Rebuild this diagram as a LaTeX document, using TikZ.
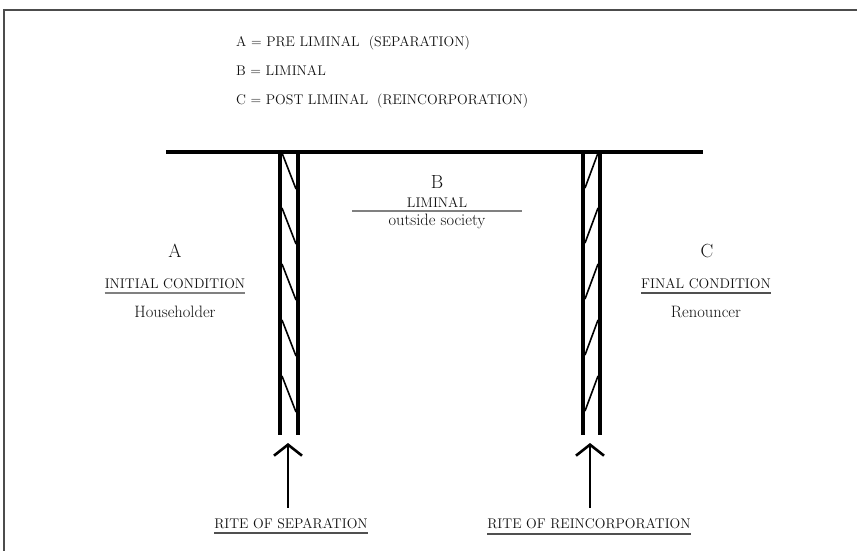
\documentclass[tikz,border=0pt]{standalone}
\usetikzlibrary{arrows.meta,calc}
\definecolor{ink}{HTML}{111111}
\definecolor{rule}{HTML}{808080}
\definecolor{ruledark}{HTML}{505050}
\begin{document}
\begin{tikzpicture}[x=1pt,y=-1pt,
  txt/.style={anchor=base,inner sep=0pt,font=\fontsize{14}{16}\selectfont,text=ink},
  low/.style={anchor=base,inner sep=0pt,font=\fontsize{16.5}{18}\selectfont,text=ink},
  big/.style={anchor=base,inner sep=0pt,font=\fontsize{19}{22}\selectfont,text=ink},
  pillar/.style={line width=4.5pt},
  hatch/.style={line width=1.6pt},
  uline/.style={draw=rule,line width=1.3pt},
  ulinedark/.style={draw=ruledark,line width=1.5pt},
  arr/.style={line width=2.8pt,-{Straight Barb[length=11pt,width=28pt,line width=2.6pt]}}]
\useasboundingbox (0,0) rectangle (857,551);
\fill[white] (0,0) rectangle (857,551);
% frame
\draw[line width=2pt,draw=black!70] (4,551) -- (4,10.5) -- (857,10.5);
% legend
\node[txt,anchor=base west] (la) at (236,47) {A = PRE LIMINAL\ \ (SEPARATION)};
\node[txt,anchor=base west] (lb) at (236,76) {B = LIMINAL};
\node[txt,anchor=base west] (lc) at (236,104) {C = POST LIMINAL\ \ (REINCORPORATION)};
% bar and pillars
\draw[line width=4pt] (166,152) -- (703,152);
\draw[pillar] (280,150) -- (280,435);
\draw[pillar] (298,150) -- (298,435);
\draw[pillar] (583,150) -- (583,435);
\draw[pillar] (600,150) -- (600,435);
\foreach \y in {153,208,264,320,376}{
  \draw[hatch] (282,\y) -- (296,\y+36);
  \draw[hatch] (598,\y) -- (585,\y+35);
}
% B
\node[big] (b) at (437,188) {B};
\node[txt] (bl) at (437,207) {LIMINAL};
\draw[uline] (352,211) -- (522,211);
\node[low] (bo) at (437,225) {outside society};
% A
\node[big] (a) at (175,257) {A};
\node[txt] (ai) at (175,288) {INITIAL CONDITION};
\draw[uline] ($(ai.base west)+(0,5)$) -- ($(ai.base east)+(0,5)$);
\node[low] (ah) at (175,317) {Householder};
% C
\node[big] (c) at (707,257) {C};
\node[txt] (cf) at (706,288) {FINAL CONDITION};
\draw[ulinedark] ($(cf.base west)+(0,5)$) -- ($(cf.base east)+(0,5)$);
\node[low] (cr) at (706,317) {Renouncer};
% rites
\node[txt] (rs) at (291,528) {RITE OF SEPARATION};
\draw[ulinedark] ($(rs.base west)+(0,5)$) -- ($(rs.base east)+(0,5)$);
\node[txt] (rr) at (589,528) {RITE OF REINCORPORATION};
\draw[ulinedark] ($(rr.base west)+(0,6)$) -- ($(rr.base east)+(0,6)$);
\coordinate (lt) at (288,443);
\coordinate (rt) at (590,443);
\draw[arr] ($(lt |- rs.north)+(0,-10)$) -- (lt);
\draw[arr] ($(rt |- rr.north)+(0,-10)$) -- (rt);
\end{tikzpicture}
\end{document}
